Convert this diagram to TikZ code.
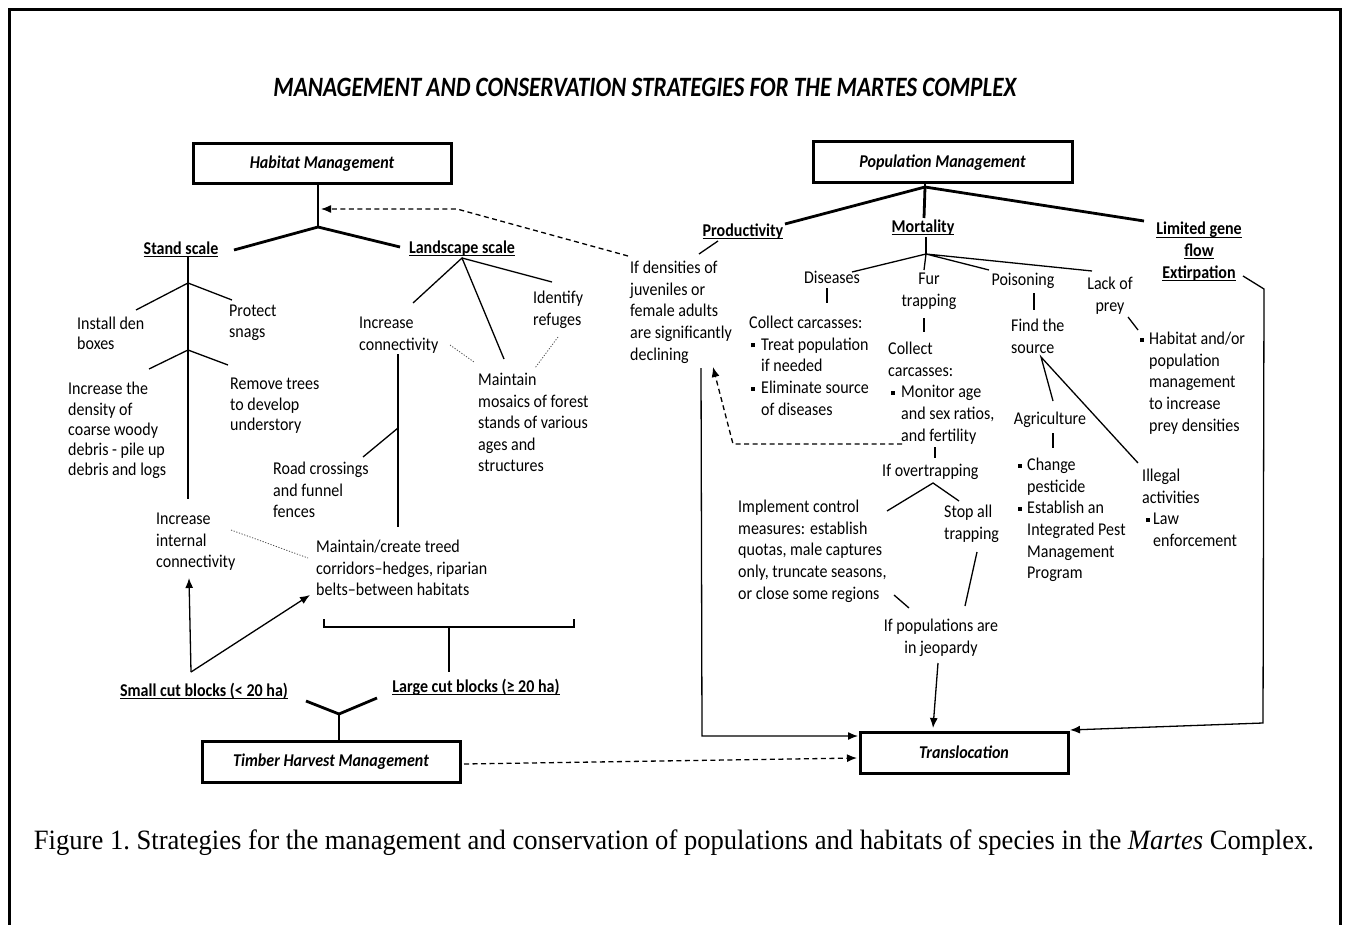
\documentclass[tikz,border=0pt]{standalone}
\usepackage{fontspec}
\setmainfont{Carlito}[FakeStretch=0.89]
\newfontfamily\titlefont{Carlito}[FakeStretch=0.83]
\newfontfamily\capfont{Liberation Serif}[FakeStretch=0.95]
\usetikzlibrary{arrows.meta}
\newcommand{\uln}[1]{\setbox0\hbox{#1}\rlap{\rule[-3pt]{\wd0}{1.3pt}}\box0}
\newcommand{\bu}{\rule[3pt]{4pt}{4pt}}
\begin{document}
\begin{tikzpicture}[x=1pt,y=-1pt,
 base/.style={inner sep=0pt, execute at begin node=\strut, yshift=5pt},
 one/.style={yshift=5pt},
 txt/.style={base, font=\fontsize{18}{21.6}\selectfont, align=left, anchor=north west},
 txs/.style={base, font=\fontsize{18}{20.3}\selectfont, align=left, anchor=north west},
 ctxt/.style={base, font=\fontsize{18}{21.6}\selectfont, align=center, anchor=north},
 hd/.style={base, font=\fontsize{18}{21.6}\selectfont\bfseries, align=center, anchor=north},
 box/.style={draw, line width=3pt, inner sep=0pt, font=\fontsize{18}{20}\selectfont\bfseries\itshape},
 thn/.style={line width=1.3pt},
 thk/.style={line width=2.8pt},
 dot/.style={line width=0.8pt, dash pattern=on 1.2pt off 1.6pt, black!70},
 dsh/.style={line width=1.3pt, dash pattern=on 5pt off 3.5pt},
 arr/.style={-{Latex[length=10pt,width=8pt]}}
]
\useasboundingbox (0,0) rectangle (1348,925);
\draw[line width=3pt] (9,925) -- (9,10) -- (1340,10) -- (1340,925);

\node[font=\titlefont\fontsize{28}{30}\selectfont\bfseries\itshape, inner sep=0pt] (title) at (645,87) {MANAGEMENT AND CONSERVATION STRATEGIES FOR THE MARTES COMPLEX};

% boxes
\node[box, minimum width=258pt, minimum height=40pt] (hm) at (322,164) {Habitat Management};
\node[box, minimum width=259pt, minimum height=41pt] (pm) at (942.5,162.5) {Population Management};
\node[box, minimum width=258pt, minimum height=41pt] (th) at (331,761.5) {Timber Harvest Management};
\node[box, minimum width=208pt, minimum height=41pt] (tr) at (964,752.5) {Translocation};

% headings
\node[hd,one] (stand) at (181,249) {\uln{Stand scale}};
\node[hd,one] (land) at (462,248) {\uln{Landscape scale}};
\node[hd,one] (prod) at (743,231) {\uln{Productivity}};
\node[hd,one] (mort) at (923,227) {\uln{Mortality}};
\node[hd] (lim) at (1199,227) {\uln{Limited gene}\\\uln{flow}\\\uln{Extirpation}};
\node[hd,one] (small) at (204,691) {\uln{Small cut blocks (< 20 ha)}};
\node[hd,one] (large) at (476,687) {\uln{Large cut blocks (≥ 20 ha)}};

% habitat texts
\node[txs] (inst) at (77,322) {Install den\\boxes};
\node[txs] (prot) at (229,310) {Protect\\snags};
\node[txs] (incd) at (68,387) {Increase the\\density of\\coarse woody\\debris - pile up\\debris and logs};
\node[txs] (remv) at (230,383) {Remove trees\\to develop\\understory};
\node[txt] (iic) at (156,518) {Increase\\internal\\connectivity};
\node[txt] (icon) at (359,322) {Increase\\connectivity};
\node[txt] (idr) at (533,296) {Identify\\refuges};
\node[txt] (mosa) at (478,378) {Maintain\\mosaics of forest\\stands of various\\ages and\\structures};
\node[txt] (road) at (273,467) {Road crossings\\and funnel\\fences};
\node[txt] (corr) at (316,545) {Maintain/create treed\\corridors--hedges, riparian\\belts--between habitats};

% population texts
\node[txt] (dens) at (630,266) {If densities of\\juveniles or\\female adults\\are significantly\\declining};
\node[ctxt,one] (dis) at (832,278) {Diseases};
\node[txt] (cc1) at (749,321) {Collect carcasses:\\\hspace*{2pt}\bu\hspace*{6pt}Treat population\\\hspace*{12pt}if needed\\\hspace*{2pt}\bu\hspace*{6pt}Eliminate source\\\hspace*{12pt}of diseases};
\node[ctxt] (fur) at (929,278) {Fur\\trapping};
\node[txt] (cc2) at (888,347) {Collect\\carcasses:\\\hspace*{3pt}\bu\hspace*{6pt}Monitor age\\\hspace*{13pt}and sex ratios,\\\hspace*{13pt}and fertility};
\node[ctxt,one] (pois) at (1023,280) {Poisoning};
\node[ctxt] (lack) at (1110,282) {Lack of\\prey};
\node[txt] (find) at (1011,324) {Find the\\source};
\node[txt] (hab) at (1138,337) {\hspace*{2pt}\bu\hspace*{5pt}Habitat and/or\\\hspace*{11pt}population\\\hspace*{11pt}management\\\hspace*{11pt}to increase\\\hspace*{11pt}prey densities};
\node[ctxt,one] (agri) at (1050,419) {Agriculture};
\node[txt] (chg) at (1016,463) {\hspace*{2pt}\bu\hspace*{5pt}Change\\\hspace*{11pt}pesticide\\\hspace*{2pt}\bu\hspace*{5pt}Establish an\\\hspace*{11pt}Integrated Pest\\\hspace*{11pt}Management\\\hspace*{11pt}Program};
\node[txt] (ill) at (1142,474) {Illegal\\activities\\\hspace*{4pt}\bu\hspace*{3pt}Law\\\hspace*{11pt}enforcement};
\node[txt,one] (ovt) at (882,471) {If overtrapping};
\node[txt] (impl) at (738,505) {Implement control\\measures: establish\\quotas, male captures\\only, truncate seasons,\\or close some regions};
\node[txt] (stop) at (944,510) {Stop all\\trapping};
\node[ctxt] (jeop) at (941,624) {If populations are\\in jeopardy};

% caption
\node[font=\capfont\fontsize{28}{30}\selectfont\frenchspacing, inner sep=0pt] (cap) at (674,843) {Figure 1. Strategies for the management and conservation of populations and habitats of species in the \textit{Martes} Complex.};

% ---- habitat connectors
\coordinate (hmA) at (318,227);
\coordinate (standT) at (234,250);
\coordinate (landT) at (400,247);
\draw[thk] (hm.south -| hmA) -- (hmA);
\draw[thk] (standT) -- (hmA) -- (landT);
\coordinate (sv0) at (188,257);
\coordinate (sv1) at (188,283);
\coordinate (sv2) at (188,350);
\coordinate (sv3) at (188,499);
\coordinate (instE) at (136,310);
\coordinate (protW) at (232,300);
\coordinate (incdE) at (149,369);
\coordinate (remvW) at (228,365);
\draw[thn] (sv0) -- (sv3);
\draw[thn] (instE) -- (sv1) -- (protW);
\draw[thn] (incdE) -- (sv2) -- (remvW);
\coordinate (lA) at (462,258);
\coordinate (iconE) at (413,303);
\coordinate (mosaN) at (504,359);
\coordinate (idrW) at (552,282);
\draw[thn] (iconE) -- (lA) -- (mosaN);
\draw[thn] (lA) -- (idrW);
\coordinate (lv0) at (398,354);
\coordinate (lv1) at (398,428);
\coordinate (lv2) at (398,527);
\coordinate (roadE) at (363,457);
\draw[thn] (lv0) -- (lv2);
\draw[thn] (lv1) -- (roadE);
\draw[dot] (450,345) -- (474,362);
\draw[dot] (558,337) -- (535,368);
\draw[dot] (231,530) -- (308,558);
\coordinate (scA) at (191,672);
\draw[thn,arr] (scA) -- (189,578);
\draw[thn,arr] (scA) -- (310,595);
\draw[line width=2.5pt] (324,619) -- (324,627) -- (574,627) -- (574,619);
\draw[line width=2.5pt] (449,627) -- (449,672);
\coordinate (yJ) at (339,714);
\draw[thk] (306,701) -- (yJ) -- (377,698);
\draw[thk] (yJ) -- (th.north -| yJ);

% ---- population connectors
\coordinate (pmA) at (925,187);
\draw[thk] (pm.south -| pmA) -- (pmA);
\draw[thk] (785,224) -- (pmA) -- (1144,221);
\draw[thk] (pmA) -- (924,218);
\draw[thn] (718,241) -- (699,254);
\coordinate (mA) at (926,254);
\draw[thn] (926,237) -- (mA);
\draw[thn] (852,272) -- (mA) -- (924,270);
\draw[thn] (989,270) -- (mA) -- (1092,271);
\draw[thn] (827,288) -- (827,303);
\draw[thn] (924,318) -- (924,332);
\draw[thn] (1034,293) -- (1034,310);
\draw[thn] (1128,317) -- (1138,330);
\coordinate (fA) at (1041,357);
\draw[thn] (1053,401) -- (fA) -- (1138,463);
\draw[thn] (1053,433) -- (1053,448);
\draw[thn] (935,447) -- (935,458);
\coordinate (oA) at (933,483);
\draw[thn] (887,511) -- (oA) -- (959,501);
\draw[thn] (894,595) -- (909,608);
\draw[thn] (977,552) -- (965,606);
\draw[thn,arr] (938,663) -- (933,728);
\draw[thn,arr] (701,368) -- (702,736) -- (858,736);
\draw[thn,arr] (1243,276) -- (1264,289) -- (1263,723) -- (1070,730);
\draw[dsh,arr] (902,444) -- (733,444) -- (713,367);
\draw[dsh,arr] (628,256) -- (457,209) -- (321,209);
\draw[dsh,arr] (464,764) -- (857,758);
\end{tikzpicture}
\end{document}
